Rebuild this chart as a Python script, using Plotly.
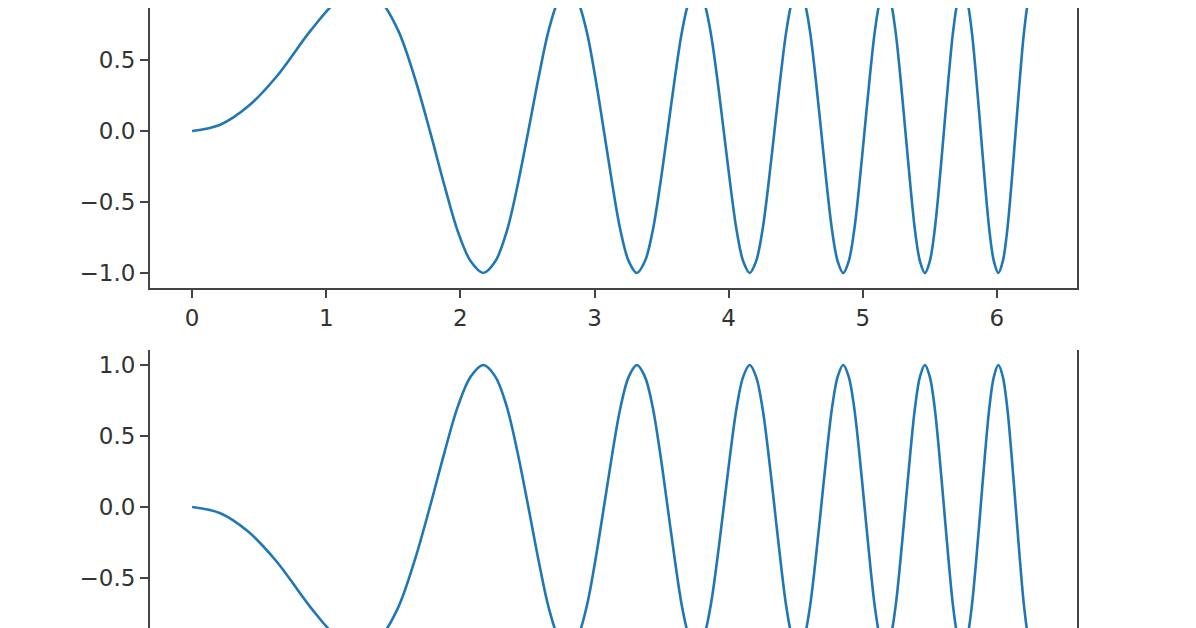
import plotly.graph_objects as go
from plotly.subplots import make_subplots

# pontos (curva de cima e curva de baixo)
x_vals = [0, 0.21, 0.42,
          0.6267, 0.8862, 1.0854, 1.2533, 1.4012, 1.5350, 1.6580, 1.7725,
          1.8800, 1.9817, 2.0784, 2.1708, 2.2594, 2.3447, 2.4270, 2.5066,
          2.5838, 2.6587, 2.7315, 2.8025, 2.8717, 2.9393, 3.0054, 3.0700,
          3.1333, 3.1954, 3.2562, 3.3160, 3.3747, 3.4323, 3.4891, 3.5449,
          3.5999, 3.6540, 3.7074, 3.7600, 3.8118, 3.8630, 3.9135, 3.9633,
          4.0126, 4.0612, 4.1093, 4.1568, 4.2037, 4.2502, 4.2962, 4.3416,
          4.3866, 4.4311, 4.4752, 4.5189, 4.5621, 4.6050, 4.6474, 4.6895,
          4.7312, 4.7725, 4.8135, 4.8541, 4.8944, 4.9343, 4.9740, 5.0133,
          5.0523, 5.0910, 5.1294, 5.1676, 5.2054, 5.2430, 5.2803, 5.3174,
          5.3542, 5.3907, 5.4270, 5.4631, 5.4989, 5.5345, 5.5699, 5.6050,
          5.6399, 5.6746, 5.7091, 5.7434, 5.7775, 5.8114, 5.8451, 5.8786,
          5.9119, 5.9450, 5.9779, 6.0107, 6.0433, 6.0757, 6.1079, 6.1400,
          6.1719, 6.2036, 6.2352, 6.2666, 6.2832]

y_topo = [0, 0.044, 0.175,
          0.38, 0.71, 0.92, 1.0, 0.92, 0.71, 0.38, 0,
          -0.38, -0.71, -0.92, -1.0, -0.92, -0.71, -0.38, 0,
          0.38, 0.71, 0.92, 1.0, 0.92, 0.71, 0.38, 0,
          -0.38, -0.71, -0.92, -1.0, -0.92, -0.71, -0.38, 0,
          0.38, 0.71, 0.92, 1.0, 0.92, 0.71, 0.38, 0,
          -0.38, -0.71, -0.92, -1.0, -0.92, -0.71, -0.38, 0,
          0.38, 0.71, 0.92, 1.0, 0.92, 0.71, 0.38, 0,
          -0.38, -0.71, -0.92, -1.0, -0.92, -0.71, -0.38, 0,
          0.38, 0.71, 0.92, 1.0, 0.92, 0.71, 0.38, 0,
          -0.38, -0.71, -0.92, -1.0, -0.92, -0.71, -0.38, 0,
          0.38, 0.71, 0.92, 1.0, 0.92, 0.71, 0.38, 0,
          -0.38, -0.71, -0.92, -1.0, -0.92, -0.71, -0.38, 0,
          0.38, 0.71, 0.92, 1.0, 0.98]

y_baixo = [0, -0.044, -0.175,
           -0.38, -0.71, -0.92, -1.0, -0.92, -0.71, -0.38, 0,
           0.38, 0.71, 0.92, 1.0, 0.92, 0.71, 0.38, 0,
           -0.38, -0.71, -0.92, -1.0, -0.92, -0.71, -0.38, 0,
           0.38, 0.71, 0.92, 1.0, 0.92, 0.71, 0.38, 0,
           -0.38, -0.71, -0.92, -1.0, -0.92, -0.71, -0.38, 0,
           0.38, 0.71, 0.92, 1.0, 0.92, 0.71, 0.38, 0,
           -0.38, -0.71, -0.92, -1.0, -0.92, -0.71, -0.38, 0,
           0.38, 0.71, 0.92, 1.0, 0.92, 0.71, 0.38, 0,
           -0.38, -0.71, -0.92, -1.0, -0.92, -0.71, -0.38, 0,
           0.38, 0.71, 0.92, 1.0, 0.92, 0.71, 0.38, 0,
           -0.38, -0.71, -0.92, -1.0, -0.92, -0.71, -0.38, 0,
           0.38, 0.71, 0.92, 1.0, 0.92, 0.71, 0.38, 0,
           -0.38, -0.71, -0.92, -1.0, -0.98]

x_ticks = [0, 1, 2, 3, 4, 5, 6]
y_ticks_topo = [-1.0, -0.5, 0.0, 0.5, 1.0]
y_ticks_baixo = [-0.5, 0.0, 0.5, 1.0]

azul = '#1f77b4'
cor_eixo = '#444444'
fonte = dict(family='DejaVu Sans', size=23, color='#333333')

fig = make_subplots(rows=2, cols=1)

for linha, y in [(1, y_topo), (2, y_baixo)]:
    fig.add_trace(go.Scatter(x=x_vals, y=y, mode='lines',
                             line=dict(color=azul, width=2.6, shape='spline', smoothing=1),
                             showlegend=False), row=linha, col=1)

eixo_x = dict(range=[-0.314, 6.597], showgrid=False, zeroline=False,
              linecolor=cor_eixo, linewidth=2, ticks='outside', ticklen=8,
              tickwidth=2, tickcolor=cor_eixo, tickvals=x_ticks, tickfont=fonte)
eixo_y = dict(showgrid=False, zeroline=False, showline=True, mirror=True,
              linecolor=cor_eixo, linewidth=2, ticks='outside', ticklen=8,
              tickwidth=2, tickcolor=cor_eixo, tickformat='.1f', tickfont=fonte)

# a página tem 8px de margem no corpo, por isso 1188x620
fig.update_layout(
    width=1188, height=620,
    margin=dict(l=142, r=119, t=0, b=0),
    paper_bgcolor='white', plot_bgcolor='white',
    xaxis=dict(eixo_x, domain=[0, 1], showline=True, anchor='y'),
    yaxis=dict(eixo_y, domain=[0.5484, 1], range=[-1.106, 0.866], tickvals=y_ticks_topo),
    xaxis2=dict(eixo_x, domain=[0, 1], showline=False, ticks='', showticklabels=False, anchor='y2'),
    yaxis2=dict(eixo_y, domain=[0, 0.4484], range=[-0.852, 1.1056], tickvals=y_ticks_baixo),
)

fig.write_html("out.html")
